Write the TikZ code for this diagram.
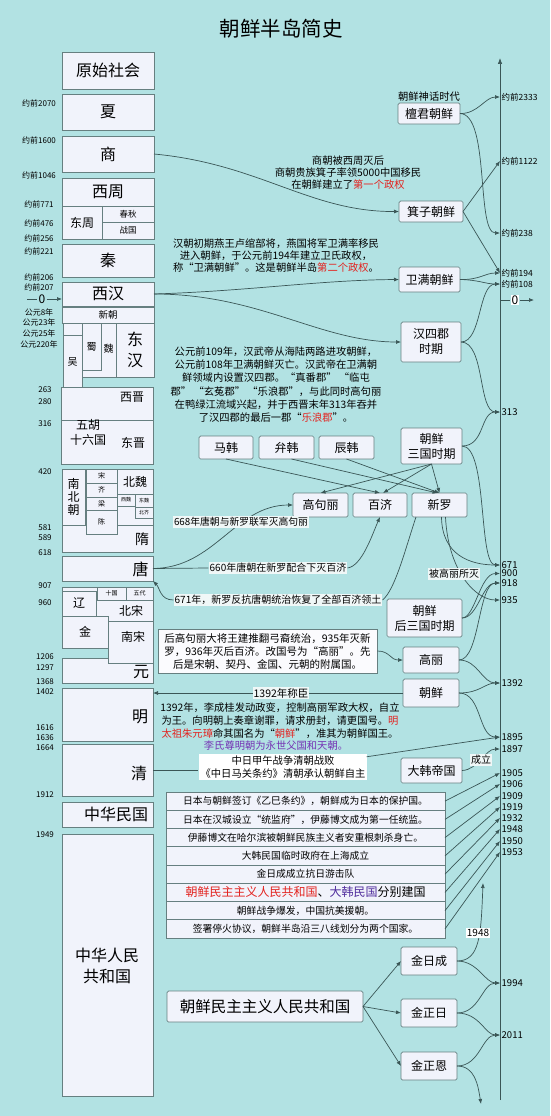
\documentclass[tikz,border=0pt]{standalone}
\usepackage{fontspec}
\setmainfont{Noto Sans CJK SC}
\usetikzlibrary{arrows.meta,calc}
\definecolor{bgc}{HTML}{B2E2E3}
\definecolor{boxfill}{HTML}{F1F3FB}
\definecolor{boxdraw}{HTML}{667F80}
\definecolor{linec}{HTML}{3A5656}
\definecolor{labbg}{HTML}{F0F7F7}
\definecolor{myred}{HTML}{E3231F}
\definecolor{mypurple}{HTML}{7432B4}
\definecolor{myblue}{HTML}{4F2C9C}
\newcommand\fsz[2]{\fontsize{#1}{#2}\selectfont}
\newcommand\LB[7]{\node[lbox, minimum width={(#4)-(#2)}, minimum height={(#5)-(#3)}, #6] (#1) at ({((#2)+(#4))/2},{((#3)+(#5))/2}) {#7};}
\newcommand\RB[7]{\node[rbox, minimum width={(#4)-(#2)}, minimum height={(#5)-(#3)}, #6] (#1) at ({((#2)+(#4))/2},{((#3)+(#5))/2}) {#7};}
\begin{document}
\begin{tikzpicture}[x=1pt, y=-1pt,
 lbox/.style={draw=boxdraw, fill=boxfill, line width=0.7pt, inner sep=0pt, outer sep=0pt, align=center},
 rbox/.style={draw=boxdraw, fill=boxfill, line width=0.7pt, rounded corners=1.5pt, inner sep=0pt, outer sep=0pt, align=center, font=\fsz{12}{15}},
 ly/.style={inner sep=0pt, font=\fsz{8}{9}},
 ry/.style={anchor=west, inner sep=1.5pt, font=\fsz{9.5}{10}},
 ryc/.style={anchor=west, inner sep=1.5pt, font=\fsz{8.5}{10}},
 para/.style={inner sep=0pt, align=center, font=\fsz{10.3}{12}},
 lab/.style={fill=labbg, inner sep=1pt, font=\fsz{10}{12}},
 tx/.style={inner sep=0pt, align=center},
 con/.style={draw=linec, line width=0.7pt},
 arr/.style={con, -{Latex[length=5pt,width=4pt]}},
 rowbox/.style={draw=boxdraw, fill=boxfill, line width=0.7pt, inner sep=0pt, outer sep=0pt, minimum width=279, minimum height=18.25, font=\fsz{9.8}{11}}]
\useasboundingbox (0,0) rectangle (550,1116);
\fill[bgc] (0,0) rectangle (550,1116);
\node[font=\fsz{20.5}{24}] (title) at (281,29) {朝鲜半岛简史};

% ---------- left column ----------
\LB{yuanshi}{62}{52}{154}{89}{font=\fsz{16}{18}}{原始社会}
\LB{xia}{62}{94}{154}{130}{font=\fsz{16}{18}}{夏}
\LB{shang}{62}{136}{154}{172}{font=\fsz{16}{18}}{商}
\LB{xizhou}{62}{178}{154}{206}{font=\fsz{16}{18}}{西周}
\LB{dongzhou}{62}{206}{102}{239}{font=\fsz{12}{14}}{东周}
\LB{chunqiu}{102}{206}{154}{222}{font=\fsz{8.5}{10}}{春秋}
\LB{zhanguo}{102}{222}{154}{239}{font=\fsz{8.5}{10}}{战国}
\LB{qin}{62}{244}{154}{277}{font=\fsz{16}{18}}{秦}
\LB{xihan}{62}{282}{154}{306}{font=\fsz{16}{18}}{西汉}
\LB{xinchao}{62}{307}{154}{323}{font=\fsz{9.5}{11}}{新朝}
\LB{sgA}{63}{323}{82}{335}{}{}
\LB{wu}{63}{335}{82}{388}{font=\fsz{10}{12}}{吴}
\LB{wei}{82}{323}{116}{377}{}{}
\LB{shu}{82}{323}{101}{370}{font=\fsz{10}{12}}{蜀}
\node[tx, font=\fsz{10}{12}] (twei) at (108.5,349) {魏};
\LB{donghan}{116}{323}{154}{377}{font=\fsz{16}{21}}{东\\汉}
\LB{xijin}{61}{387}{153}{420}{}{}
\node[tx, font=\fsz{12}{14}] (txijin) at (132,397) {西晋};
\LB{dongjin}{61}{420}{153}{464}{}{}
\node[tx, font=\fsz{12}{14}] (tdongjin) at (133,443) {东晋};
\node[tx, font=\fsz{12}{15}] (twuhu) at (88,432) {五胡\\十六国};
\LB{nbcbg}{117}{506}{153}{525}{}{}
\LB{nbc}{62}{469}{85}{525}{font=\fsz{12}{13}}{南\\北\\朝}
\LB{song}{86}{469}{117}{483}{font=\fsz{7}{8}}{宋}
\LB{qi}{86}{483}{117}{497}{font=\fsz{7}{8}}{齐}
\LB{liang}{86}{497}{117}{510}{font=\fsz{7}{8}}{梁}
\LB{beiwei}{117}{469}{153}{494}{font=\fsz{12}{14}}{北魏}
\LB{xiwei}{117}{494}{135}{506}{font=\fsz{5}{6}}{西魏}
\LB{dongwei}{135}{494}{153}{507}{font=\fsz{5}{6}}{东魏}
\LB{beiqi}{135}{507}{153}{518}{font=\fsz{5}{6}}{北齐}
\LB{sui}{62}{525}{153}{552}{}{}
\node[tx, font=\fsz{14}{16}] (tsui) at (142,539) {隋};
\LB{chen}{86}{510}{117}{534}{font=\fsz{7}{8}}{陈}
\LB{tang}{62}{556}{153}{581}{}{}
\node[tx, font=\fsz{16}{18}] (ttang) at (140.5,569) {唐};
\LB{wdA}{62}{587}{97}{600}{}{}
\LB{shiguo}{97}{587}{126}{600}{font=\fsz{6}{7}}{十国}
\LB{wudai}{126}{587}{153}{600}{font=\fsz{6}{7}}{五代}
\LB{beisong}{96}{600}{153}{645}{}{}
\node[tx, font=\fsz{12}{14}] (tbeisong) at (131,611) {北宋};
\LB{liao}{62}{591}{96}{616}{font=\fsz{12}{14}}{辽}
\LB{jin}{62}{616}{108}{648}{font=\fsz{12}{14}}{金}
\LB{yuan}{62}{658}{153}{683}{}{}
\node[tx, font=\fsz{16}{18}] (tyuan) at (141,672) {元};
\LB{nansong}{108}{621}{153}{663}{}{}
\node[tx, font=\fsz{12}{14}] (tnansong) at (133,637) {南宋};
\LB{ming}{62}{688}{153}{741}{}{}
\node[tx, font=\fsz{16}{18}] (tming) at (140,717) {明};
\LB{qing}{62}{744}{153}{796}{}{}
\node[tx, font=\fsz{16}{18}] (tqing) at (139,773) {清};
\LB{minguo}{62}{802}{153}{827}{}{}
\node[tx, font=\fsz{16}{18}] (tminguo) at (116,814) {中华民国};
\LB{prc}{62}{834}{153}{1096}{}{}
\node[tx, font=\fsz{16}{21}] (tprc) at (107,966) {中华人民\\共和国};

% left year labels
\foreach \t/\yy [count=\i] in {约前2070/103, 约前1600/140, 约前1046/175, 约前771/204, 约前476/223, 约前256/238, 约前221/251, 约前206/277, 约前207/287, 公元8年/312, 公元23年/322, 公元25年/333, 公元220年/344}
  {\node[ly] (lya\i) at (39,\yy) {\t};}
\foreach \t/\yy [count=\i] in {263/390, 280/402, 316/424, 420/472, 581/528, 589/538, 618/553, 907/586, 960/603, 1206/657, 1297/668, 1368/682, 1402/692, 1616/728, 1636/738, 1664/748, 1912/795, 1949/835}
  {\node[ly] (lyb\i) at (45,\yy) {\t};}
\node[inner sep=1pt, font=\fsz{12}{13}] (zeroL) at (42,299) {0};
\coordinate (zl1) at (27,299);
\draw[con] (zl1) -- (zeroL);
\draw[arr] (zeroL) -- ($(xihan.west)+(0,5)$);

% ---------- axis ----------
\coordinate (axB) at (500,1100);
\coordinate (axT) at (500,58);
\draw[con, -{Latex[length=6pt,width=4.5pt]}] (axB) -- (axT);
\node[ryc] (y2333) at (500,97) {约前2333};
\node[ryc] (y1122) at (500,161) {约前1122};
\node[ryc] (y238) at (500,233) {约前238};
\node[ryc] (y194) at (500,273) {约前194};
\node[ryc] (y108) at (500,284) {约前108};
\node[ry] (y313) at (500,412) {313};
\node[ry] (y671) at (500,565) {671};
\node[ry] (y900) at (500,573.5) {900};
\node[ry] (y918) at (500,583) {918};
\node[ry] (y935) at (500,600) {935};
\node[ry] (y1392) at (500,683) {1392};
\node[ry] (y1895) at (500,737) {1895};
\node[ry] (y1897) at (500,749) {1897};
\node[ry] (y1905) at (500,773) {1905};
\node[ry] (y1906) at (500,784) {1906};
\node[ry] (y1909) at (500,796) {1909};
\node[ry] (y1919) at (500,807) {1919};
\node[ry] (y1932) at (500,818) {1932};
\node[ry] (y1948) at (500,829) {1948};
\node[ry] (y1950) at (500,841) {1950};
\node[ry] (y1953) at (500,852) {1953};
\node[ry] (y1994) at (500,983) {1994};
\node[ry] (y2011) at (500,1035) {2011};
\coordinate (z0a) at (500,300);
\node[fill=white, inner sep=1pt, font=\fsz{12}{13}] (zeroR) at (515,300) {0};
\coordinate (z0b) at (534,300);
\draw[con] (z0a) -- (zeroR);
\draw[arr] (zeroR) -- (z0b);

% ---------- right boxes ----------
\node[para] (shenhua) at (429,97) {朝鲜神话时代};
\RB{tanjun}{398}{103}{460}{124}{}{檀君朝鲜}
\RB{jizi}{399}{201}{463}{222}{}{箕子朝鲜}
\RB{weiman}{399}{267}{460}{292}{}{卫满朝鲜}
\RB{sijun}{401}{322}{461}{362}{}{汉四郡\\时期}
\RB{mahan}{199}{436}{253}{459}{}{马韩}
\RB{bianhan}{259}{436}{314}{459}{}{弁韩}
\RB{chenhan}{319}{436}{374}{459}{}{辰韩}
\RB{sanguo}{401}{428}{462}{464}{}{朝鲜\\三国时期}
\RB{gouli}{293}{493}{348}{517}{}{高句丽}
\RB{baiji}{353}{493}{407}{517}{}{百济}
\RB{xinluo}{412}{493}{467}{517}{}{新罗}
\RB{housanguo}{387}{599}{462}{637}{}{朝鲜\\后三国时期}
\RB{gaoli}{403}{647}{459}{673}{}{高丽}
\RB{chaoxian}{403}{679}{459}{707}{}{朝鲜}
\RB{dahan}{401}{758}{462}{783}{}{大韩帝国}
\RB{dprk}{167}{991}{363}{1022}{font=\fsz{15.5}{17}}{朝鲜民主主义人民共和国}
\RB{jrc}{401}{947}{457}{975}{}{金日成}
\RB{jzr}{401}{999}{457}{1027}{}{金正日}
\RB{jze}{401}{1052}{457}{1080}{}{金正恩}

% ---------- paragraphs ----------
\node[para] (p1) at (348,173) {商朝被西周灭后\\商朝贵族箕子率领5000中国移民\\在朝鲜建立了\textcolor{myred}{第一个政权}};
\node[para] (p2) at (276,256) {汉朝初期燕王卢绾部将，燕国将军卫满率移民\\进入朝鲜，于公元前194年建立卫氏政权，\\称“卫满朝鲜”。这是朝鲜半岛\textcolor{myred}{第二个政权}。};
\node[para, font=\fsz{10.3}{13.3}] (p3) at (276,384.5) {公元前109年，汉武帝从海陆两路进攻朝鲜，\\公元前108年卫满朝鲜灭亡。汉武帝在卫满朝\\鲜领域内设置汉四郡。“真番郡” “临屯\\郡” “玄菟郡” “乐浪郡”，与此同时高句丽\\在鸭绿江流域兴起，并于西晋末年313年吞并\\了汉四郡的最后一郡“\textcolor{myred}{乐浪郡}”。};
\node[draw=boxdraw, fill=white!70!boxfill, line width=0.7pt, align=center, minimum width=219, minimum height=44, inner sep=0pt, font=\fsz{10.5}{13}] (p4) at (267.5,651) {后高句丽大将王建推翻弓裔统治，935年灭新\\罗，936年灭后百济。改国号为“高丽”。先\\后是宋朝、契丹、金国、元朝的附属国。};
\node[para, font=\fsz{10.3}{13}] (p5) at (280,721) {1392年，李成桂发动政变，控制高丽军政大权，自立\\为王。向明朝上奏章谢罪，请求册封，请更国号。\textcolor{myred}{明}\\\textcolor{myred}{太祖朱元璋}命其国名为“\textcolor{myred}{朝鲜}”，准其为朝鲜国王。};
\node[para, text=mypurple] (p6) at (276,746) {李氏尊明朝为永世父国和天朝。};
\node[para, fill=white, inner sep=2pt, font=\fsz{10.3}{12.5}] (p7) at (283,767) {中日甲午战争清朝战败\\《中日马关条约》清朝承认朝鲜自主};

% table rows
\node[rowbox] (r1) at (305.5,801.1) {日本与朝鲜签订《乙巳条约》，朝鲜成为日本的保护国。};
\node[rowbox] (r2) at (305.5,819.4) {日本在汉城设立“统监府”，伊藤博文成为第一任统监。};
\node[rowbox] (r3) at (305.5,837.6) {伊藤博文在哈尔滨被朝鲜民族主义者安重根刺杀身亡。};
\node[rowbox] (r4) at (305.5,855.9) {大韩民国临时政府在上海成立};
\node[rowbox] (r5) at (305.5,874.1) {金日成成立抗日游击队};
\node[rowbox, font=\fsz{12}{13}] (r6) at (305.5,892.4) {\textcolor{myred}{朝鲜民主主义人民共和国}、\textcolor{myblue}{大韩民国}分别建国};
\node[rowbox] (r7) at (305.5,910.6) {朝鲜战争爆发，中国抗美援朝。};
\node[rowbox] (r8) at (305.5,928.9) {签署停火协议，朝鲜半岛沿三八线划分为两个国家。};

% labels that connectors end at
\node[lab] (l660) at (278,568) {660年唐朝在新罗配合下灭百济};
\node[lab] (l671) at (278,600) {671年，新罗反抗唐朝统治恢复了全部百济领土};

% ---------- connectors ----------
\draw[arr] (tanjun.east) .. controls (478,114) and (485,97) .. (y2333.west);
\draw[arr] (tanjun.east) .. controls (490,114) and (476,233) .. (y238.west);
\draw[arr] (shang.east) .. controls (260,164) and (310,212) .. (jizi.west);
\draw[arr] (jizi.east) -- (y1122.west);
\draw[arr] (jizi.east) -- (y194.west);
\draw[arr] (xihan.east) .. controls (250,291) and (320,280) .. (weiman.west);
\draw[arr] (xihan.east) .. controls (260,294) and (320,342) .. (sijun.west);
\draw[arr] (weiman.east) .. controls (480,280) and (485,273) .. (y194.west);
\draw[arr] (weiman.east) .. controls (480,280) and (485,284) .. (y108.west);
\draw[arr] (sijun.east) .. controls (482,342) and (478,284) .. (y108.west);
\draw[arr] (sijun.east) .. controls (485,342) and (478,412) .. (y313.west);
\draw[arr] (sanguo.east) .. controls (485,446) and (480,412) .. (y313.west);
\draw[arr] (sanguo.east) .. controls (488,446) and (478,565) .. (y671.west);
\draw[arr] (mahan.south) -- (baiji.north);
\draw[arr] ($(bianhan.south)+(5,0)$) -- ($(xinluo.north)+(-2,0)$);
\draw[arr] (chenhan.south) -- (xinluo.north);
\draw[arr] (sanguo.south) -- (gouli.north);
\draw[arr] (sanguo.south) -- ($(baiji.north)+(3,0)$);
\draw[arr] (sanguo.south) -- (xinluo.north);
\draw[arr] (tang.east) .. controls (215,568) and (235,505) .. (gouli.west);
\draw[con] (tang.east) -- (l660.west);
\draw[arr] (l660.east) .. controls (362,566) and (372,535) .. (baiji.south);
\draw[con] ($(xinluo.south west)+(4,0)$) .. controls (405,550) and (395,590) .. (l671.east);
\draw[arr] (l671.west) .. controls (160,600) and (160,588) .. (tang.south east);
\draw[arr] ($(xinluo.south)+(2,0)$) .. controls (442,555) and (470,565) .. (y671.west);
\draw[arr] ($(xinluo.south)+(6,0)$) .. controls (448,570) and (475,600) .. (y935.west);
\draw[arr] (housanguo.east) .. controls (475,618) and (480,573.5) .. (y900.west);
\draw[arr] (housanguo.east) .. controls (478,618) and (482,583) .. (y918.west);
\draw[arr] (p4.east) .. controls (390,651) and (390,660) .. (gaoli.west);
\draw[arr] (gaoli.east) .. controls (480,660) and (478,583) .. (y918.west);
\draw[arr] (gaoli.east) .. controls (478,660) and (482,683) .. (y1392.west);
\draw[arr] (chaoxian.west) -- (ming.east |- chaoxian.west);
\draw[arr] (chaoxian.east) .. controls (480,693) and (485,683) .. (y1392.west);
\draw[arr] (chaoxian.east) .. controls (482,693) and (478,737) .. (y1895.west);
\draw[con] (qing.east) -- (qing.east -| p7.west);
\draw[arr] ($(p7.north east)+(-1,3)$) -- (y1895.west);
\draw[arr] (dahan.east) .. controls (478,770) and (485,749) .. (y1897.west);
\draw[arr] (r1.east) -- (y1905.west);
\draw[arr] (r2.east) -- (y1906.west);
\draw[arr] (r3.east) -- (y1909.west);
\draw[arr] (r4.east) -- (y1919.west);
\draw[arr] (r5.east) -- (y1932.west);
\draw[arr] (r6.east) -- (y1948.west);
\draw[arr] (r7.east) -- (y1950.west);
\draw[arr] (r8.east) -- (y1953.west);
\draw[arr] (dprk.east) -- (jrc.west);
\draw[arr] (dprk.east) -- (jzr.west);
\draw[arr] (dprk.east) -- (jze.west);
\coordinate (c1948) at (483,883);
\coordinate (cend) at (481,1104);
\draw[arr] (jrc.east) .. controls (480,961) and (481,935) .. (c1948);
\draw[arr] (jrc.east) .. controls (478,961) and (485,983) .. (y1994.west);
\draw[arr] (jzr.east) .. controls (480,1013) and (482,983) .. (y1994.west);
\draw[arr] (jzr.east) .. controls (480,1013) and (485,1035) .. (y2011.west);
\draw[arr] (jze.east) .. controls (480,1066) and (482,1035) .. (y2011.west);
\draw[arr] (jze.east) .. controls (475,1066) and (478,1085) .. (cend);

% labels on top of connectors
\node[lab, font=\fsz{9.8}{12}] (l668) at (241,522) {668年唐朝与新罗联军灭高句丽};
\node[lab, font=\fsz{10.5}{12}] (l1392) at (281,693) {1392年称臣};
\node[lab] (lbei) at (454,574) {被高丽所灭};
\node[lab] (lcl) at (481,760) {成立};
\node[fill=white, inner sep=1pt, font=\fsz{10}{12}] (l1948) at (478,933) {1948};
\end{tikzpicture}
\end{document}
